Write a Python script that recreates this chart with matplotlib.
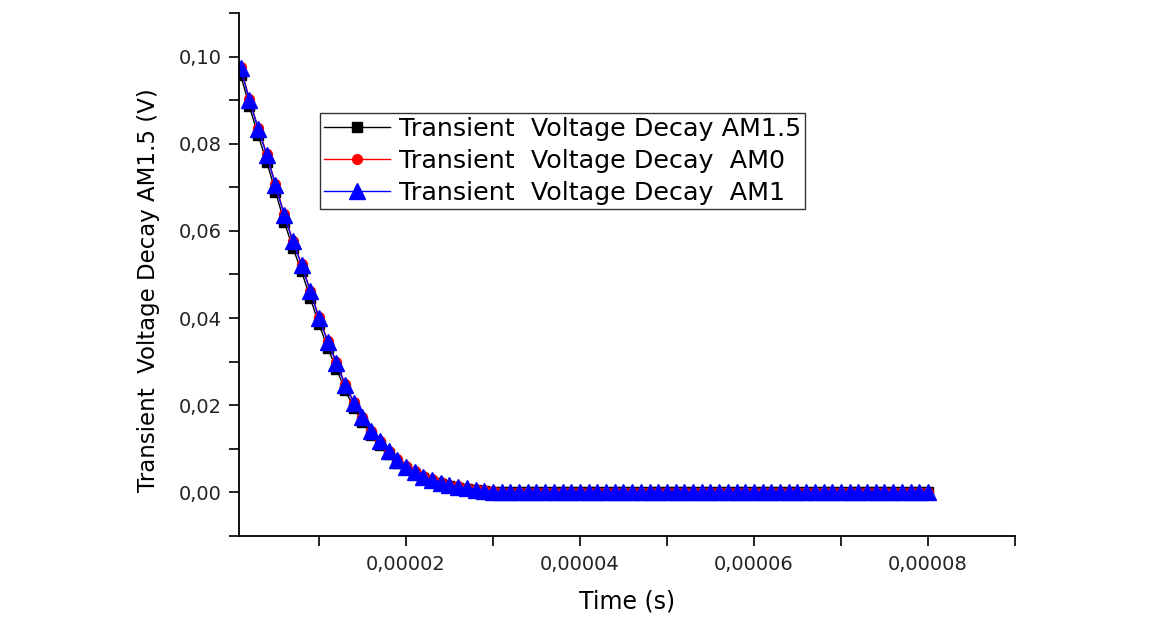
import matplotlib
matplotlib.use("Agg")
import matplotlib.pyplot as plt
from matplotlib.ticker import MultipleLocator, FuncFormatter

# time in microseconds (converted to s below)
t_us = list(range(1, 81))

# Transient Voltage Decay AM1.5 (V)
am15 = [0.0958, 0.0886, 0.0820, 0.0758, 0.0690, 0.0621, 0.0561, 0.0507, 0.0446, 0.0386,
        0.0332, 0.0284, 0.0235, 0.0194, 0.0162, 0.0131, 0.0109, 0.0087, 0.0068, 0.0053,
        0.0042, 0.0033, 0.0025, 0.0020, 0.0015, 0.0011, 0.0008, 0.0005, 0.0003, 0.0002,
        0.0001, 0.0, 0.0, 0.0, 0.0, 0.0, 0.0, 0.0, 0.0, 0.0,
        0.0, 0.0, 0.0, 0.0, 0.0, 0.0, 0.0, 0.0, 0.0, 0.0,
        0.0, 0.0, 0.0, 0.0, 0.0, 0.0, 0.0, 0.0, 0.0, 0.0,
        0.0, 0.0, 0.0, 0.0, 0.0, 0.0, 0.0, 0.0, 0.0, 0.0,
        0.0, 0.0, 0.0, 0.0, 0.0, 0.0, 0.0, 0.0, 0.0, 0.0]

# AM0
am0 = [0.0976, 0.0902, 0.0837, 0.0776, 0.0707, 0.0638, 0.0578, 0.0524, 0.0463, 0.0402,
       0.0348, 0.0299, 0.0249, 0.0207, 0.0174, 0.0142, 0.0119, 0.0096, 0.0076, 0.0060,
       0.0048, 0.0038, 0.0030, 0.0023, 0.0018, 0.0014, 0.0010, 0.0007, 0.0005, 0.0003,
       0.0002, 0.0001, 0.0, 0.0, 0.0, 0.0, 0.0, 0.0, 0.0, 0.0,
       0.0, 0.0, 0.0, 0.0, 0.0, 0.0, 0.0, 0.0, 0.0, 0.0,
       0.0, 0.0, 0.0, 0.0, 0.0, 0.0, 0.0, 0.0, 0.0, 0.0,
       0.0, 0.0, 0.0, 0.0, 0.0, 0.0, 0.0, 0.0, 0.0, 0.0,
       0.0, 0.0, 0.0, 0.0, 0.0, 0.0, 0.0, 0.0, 0.0, 0.0]

# AM1
am1 = [0.0973, 0.0900, 0.0835, 0.0774, 0.0705, 0.0636, 0.0576, 0.0522, 0.0461, 0.0400,
       0.0346, 0.0297, 0.0247, 0.0205, 0.0172, 0.0140, 0.0117, 0.0094, 0.0074, 0.0058,
       0.0046, 0.0036, 0.0028, 0.0022, 0.0017, 0.0013, 0.0009, 0.0006, 0.0004, 0.0002,
       0.0001, 0.0001, 0.0, 0.0, 0.0, 0.0, 0.0, 0.0, 0.0, 0.0,
       0.0, 0.0, 0.0, 0.0, 0.0, 0.0, 0.0, 0.0, 0.0, 0.0,
       0.0, 0.0, 0.0, 0.0, 0.0, 0.0, 0.0, 0.0, 0.0, 0.0,
       0.0, 0.0, 0.0, 0.0, 0.0, 0.0, 0.0, 0.0, 0.0, 0.0,
       0.0, 0.0, 0.0, 0.0, 0.0, 0.0, 0.0, 0.0, 0.0, 0.0]

labels = ["Transient  Voltage Decay AM1.5",
          "Transient  Voltage Decay  AM0",
          "Transient  Voltage Decay  AM1"]

t = [v * 1e-6 for v in t_us]

fig = plt.figure(figsize=(11.56, 6.38), dpi=100)
ax = fig.add_axes([0.2067, 0.1599, 0.6713, 0.8197])

ax.plot(t, am15, color="black", lw=1, marker="s", ms=7.5, label=labels[0])
ax.plot(t, am0, color="red", lw=1, marker="o", ms=7, label=labels[1])
ax.plot(t, am1, color="blue", lw=1, marker="^", ms=11.5, label=labels[2])

ax.set_xlim(0.8e-6, 9e-5)
ax.set_ylim(-0.01, 0.11)

ax.xaxis.set_major_locator(MultipleLocator(2e-5))
ax.xaxis.set_minor_locator(MultipleLocator(1e-5))
ax.yaxis.set_major_locator(MultipleLocator(0.02))
ax.yaxis.set_minor_locator(MultipleLocator(0.01))
ax.xaxis.set_major_formatter(FuncFormatter(lambda v, p: ("%.5f" % v).replace(".", ",")))
ax.yaxis.set_major_formatter(FuncFormatter(lambda v, p: ("%.2f" % v).replace(".", ",")))

ax.spines["top"].set_visible(False)
ax.spines["right"].set_visible(False)
for s in ["left", "bottom"]:
    ax.spines[s].set_linewidth(1.3)

ax.tick_params(which="both", direction="out", length=7.5, width=1.2)
ax.tick_params(axis="y", which="major", labelsize=14, pad=5, labelcolor="#222222")
ax.tick_params(axis="x", which="major", labelsize=14, pad=6, labelcolor="#222222")

ax.set_xlabel("Time (s)", fontsize=17, labelpad=11)
ax.set_ylabel("Transient  Voltage Decay AM1.5 (V)", fontsize=16.5)
ax.yaxis.set_label_coords(-0.102, 0.47)

leg = fig.legend(loc="upper left", bbox_to_anchor=(320 / 1156, 1 - 113 / 638),
                 fontsize=18.3, frameon=True, fancybox=False, borderaxespad=0,
                 borderpad=0.15, handlelength=2.6, handletextpad=0.35,
                 labelspacing=0.32)
leg.get_frame().set_edgecolor("black")
leg.get_frame().set_linewidth(1.0)

fig.savefig("out.png", dpi=100)
